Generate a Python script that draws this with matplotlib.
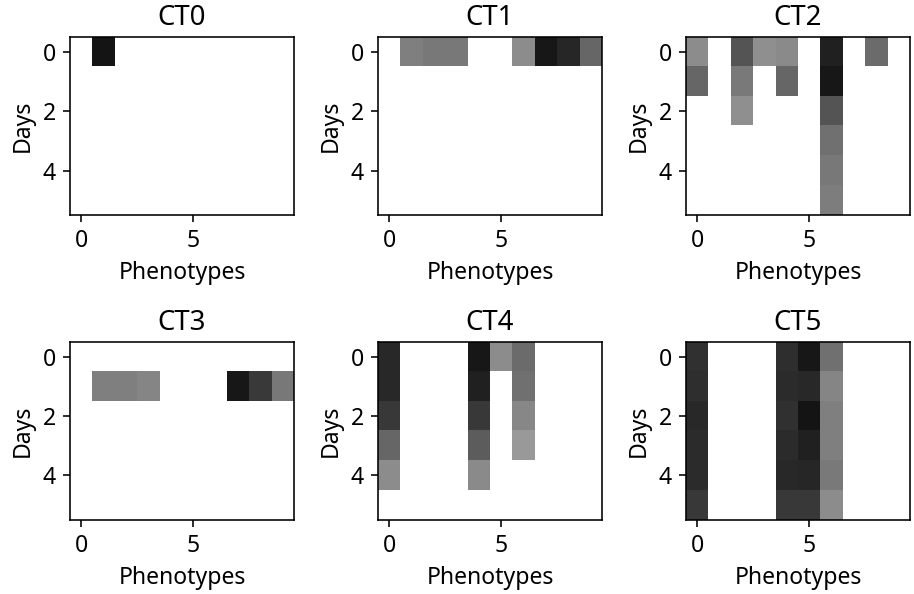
import numpy as np
import matplotlib
matplotlib.use("Agg")
import matplotlib.pyplot as plt

plt.rcParams['font.family'] = ['Noto Sans', 'DejaVu Sans']
plt.rcParams['font.size'] = 11.5
plt.rcParams['axes.titlesize'] = 13.8

n_days = 6
n_pheno = 10
titles = ['CT0', 'CT1', 'CT2', 'CT3', 'CT4', 'CT5']

# non-zero cells per cell type: (day, phenotype, value)
ct0_cells = [(0, 1, 0.92)]
ct1_cells = [(0, 1, 0.50), (0, 2, 0.53), (0, 3, 0.53),
             (0, 6, 0.45), (0, 7, 0.91), (0, 8, 0.85), (0, 9, 0.60)]
ct2_cells = [(0, 0, 0.45), (1, 0, 0.60),
             (0, 2, 0.67), (1, 2, 0.52), (2, 2, 0.44),
             (0, 3, 0.44),
             (0, 4, 0.46), (1, 4, 0.60),
             (0, 6, 0.87), (1, 6, 0.91), (2, 6, 0.67), (3, 6, 0.56), (4, 6, 0.53), (5, 6, 0.51),
             (0, 8, 0.58)]
ct3_cells = [(1, 1, 0.50), (1, 2, 0.50), (1, 3, 0.48),
             (1, 7, 0.91), (1, 8, 0.77), (1, 9, 0.53)]
ct4_cells = [(0, 0, 0.84), (1, 0, 0.84), (2, 0, 0.78), (3, 0, 0.60), (4, 0, 0.45),
             (0, 4, 0.91), (1, 4, 0.87), (2, 4, 0.78), (3, 4, 0.64), (4, 4, 0.46),
             (0, 5, 0.45),
             (0, 6, 0.58), (1, 6, 0.56), (2, 6, 0.47), (3, 6, 0.40)]
ct5_cells = [(0, 0, 0.81), (1, 0, 0.82), (2, 0, 0.84), (3, 0, 0.83), (4, 0, 0.83), (5, 0, 0.78),
             (0, 4, 0.82), (1, 4, 0.83), (2, 4, 0.81), (3, 4, 0.83), (4, 4, 0.84), (5, 4, 0.78),
             (0, 5, 0.91), (1, 5, 0.84), (2, 5, 0.92), (3, 5, 0.87), (4, 5, 0.85), (5, 5, 0.78),
             (0, 6, 0.56), (1, 6, 0.48), (2, 6, 0.50), (3, 6, 0.50), (4, 6, 0.52), (5, 6, 0.45)]

all_cells = [ct0_cells, ct1_cells, ct2_cells, ct3_cells, ct4_cells, ct5_cells]


def build_matrix(cells):
    m = np.zeros((n_days, n_pheno))
    for d, p, v in cells:
        m[d, p] = v
    return m


fig, axes = plt.subplots(2, 3, figsize=(914 / 144, 594 / 144), dpi=144)
fig.subplots_adjust(left=0.0766, right=0.9956, top=0.9377, bottom=0.1246,
                    wspace=0.375, hspace=0.713)

for ax, title, cells in zip(axes.flat, titles, all_cells):
    ax.imshow(build_matrix(cells), cmap='gray_r', vmin=0, vmax=1,
              aspect='auto', interpolation='nearest')
    ax.set_title(title)
    ax.set_xlabel('Phenotypes')
    ax.set_ylabel('Days')
    ax.set_xticks([0, 5])
    ax.set_yticks([0, 2, 4])

fig.savefig('out.png', dpi=144)
